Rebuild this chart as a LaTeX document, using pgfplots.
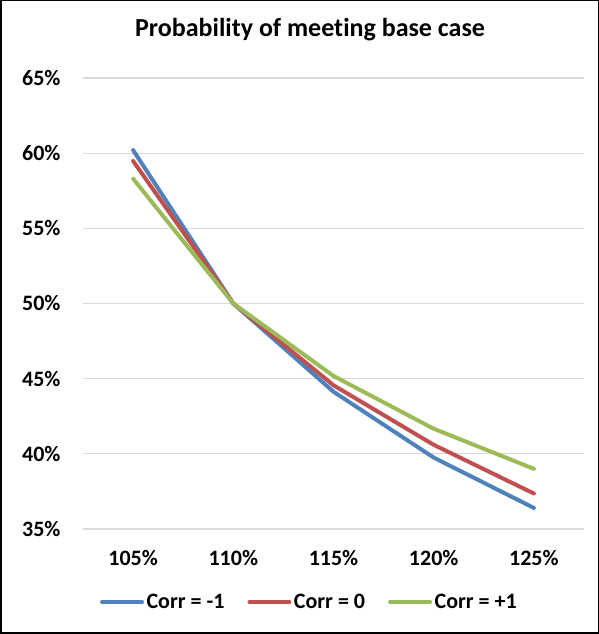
\documentclass[border=0pt]{standalone}
\usepackage{pgfplots}
\pgfplotsset{compat=1.18}
\usepackage{fontspec}
\setmainfont{Carlito}[Ligatures=NoCommon]

\definecolor{serA}{HTML}{4F81BD}
\definecolor{serB}{HTML}{C0504D}
\definecolor{serC}{HTML}{9BBB59}
\definecolor{gridgray}{HTML}{D9D9D9}

\begin{document}
\begin{tikzpicture}[x=1pt,y=1pt]
\useasboundingbox (0,0) rectangle (599,634);
\draw[black, line width=1.5pt] (0.75,0.75) rectangle (598.25,633.25);
\node[anchor=base, inner sep=0pt, font=\fontsize{26}{30}\selectfont\bfseries] at (310,597) {Probability of meeting base case};
\begin{axis}[
  at={(83pt,105pt)}, anchor=south west,
  scale only axis, width=501pt, height=451pt,
  xmin=-0.5, xmax=4.5, ymin=35, ymax=65,
  xtick={0,1,2,3,4},
  xticklabels={105\%,110\%,115\%,120\%,125\%},
  ytick={35,40,45,50,55,60,65},
  yticklabels={35\%,40\%,45\%,50\%,55\%,60\%,65\%},
  axis line style={draw=none},
  major tick length=0pt,
  ymajorgrids, grid style={gridgray, line width=1.2pt},
  ticklabel style={font=\fontsize{22}{26}\selectfont\bfseries, inner sep=0pt},
  xticklabel style={anchor=base, yshift=-36pt},
  yticklabel style={anchor=east, xshift=-22.3pt},
  legend columns=3,
  legend style={at={(0.4499,-0.1619)}, anchor=center, draw=none, fill=none,
    font=\fontsize{22}{26}\selectfont\bfseries,
    nodes={inner sep=0pt},
    /tikz/every odd column/.append style={column sep=2.5pt},
    /tikz/every even column/.append style={column sep=23pt}},
  legend image code/.code={\draw[#1, line width=4pt] (0pt,0pt) -- (40pt,0pt);},
  legend cell align=left,
]
\addplot[serA, line width=4pt, line cap=round, line join=round] coordinates {(0,60.2) (1,50.0) (2,44.13) (3,39.75) (4,36.4)};
\addlegendentry{Corr = -1}
\addplot[serB, line width=4pt, line cap=round, line join=round] coordinates {(0,59.48) (1,50.0) (2,44.56) (3,40.6) (4,37.36)};
\addlegendentry{Corr = 0}
\addplot[serC, line width=4pt, line cap=round, line join=round] coordinates {(0,58.3) (1,50.0) (2,45.18) (3,41.67) (4,39.0)};
\addlegendentry{Corr = +1}
\end{axis}
\end{tikzpicture}
\end{document}
